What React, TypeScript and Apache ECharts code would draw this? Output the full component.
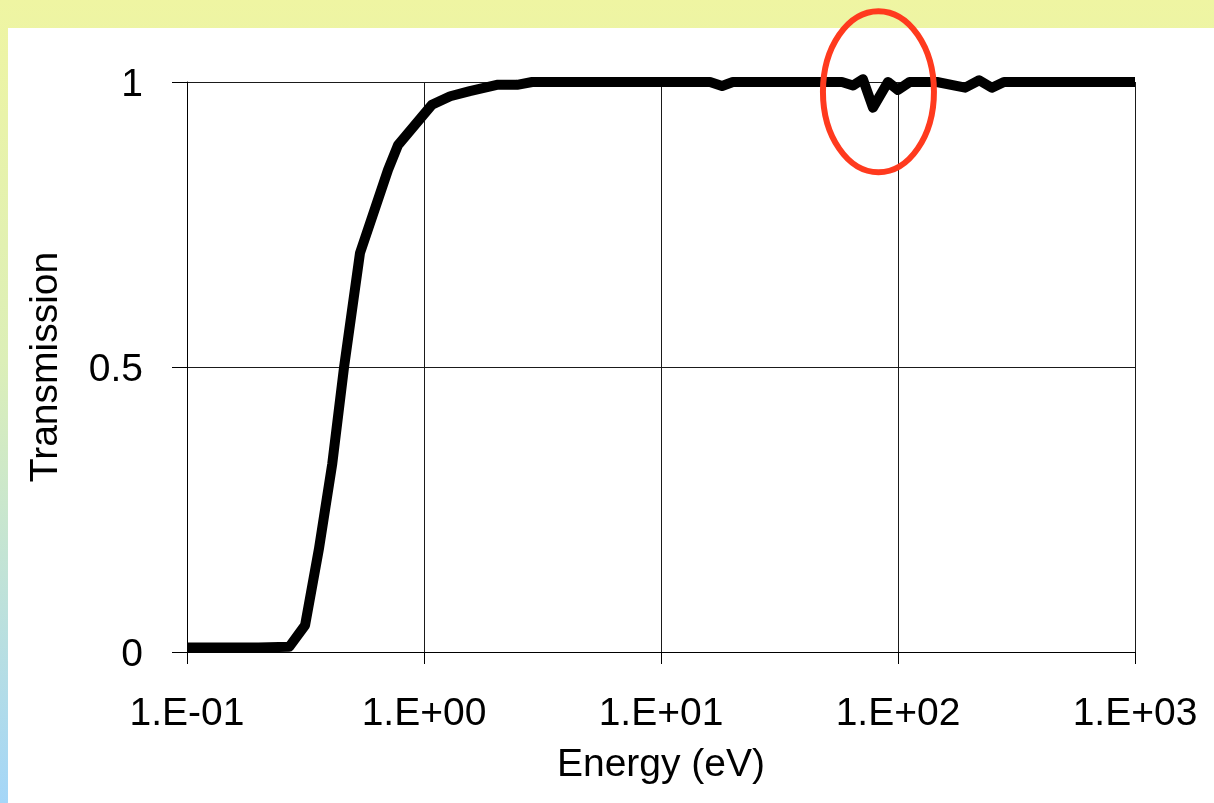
import React, { useEffect, useRef } from "react";
import * as echarts from "echarts";

// Photon energy (eV) and measured transmission of the filter
const energies = [
  0.1, 0.2, 0.27, 0.315, 0.36, 0.41, 0.46, 0.537, 0.705, 0.776, 1.08, 1.29,
  1.56, 2.03, 2.47, 2.86, 16.1, 18.1, 20.1, 58, 64.6, 71.1, 78.4, 90.7, 100,
  112, 146, 192, 220, 249, 280, 1000,
];
const transmission = [
  0.008, 0.008, 0.009, 0.047, 0.18, 0.33, 0.5, 0.7, 0.846, 0.889, 0.96, 0.975,
  0.984, 0.995, 0.995, 1.0, 1.0, 0.993, 1.0, 1.0, 0.994, 1.005, 0.955, 1.0,
  0.986, 1.0, 1.0, 0.99, 1.003, 0.99, 1.0, 1.0,
];

// Axis tick labels
const xTickLabels = ["1.E-01", "1.E+00", "1.E+01", "1.E+02", "1.E+03"];
const yTickLabels = ["0", "0.5", "1"];

// Centre of the highlighted absorption feature
const featureEnergy = 82.7;
const featureTransmission = 0.983;

const FONT = "'Liberation Sans', Arial, sans-serif";

export default function App() {
  const ref = useRef<HTMLDivElement>(null);

  useEffect(() => {
    const chart = echarts.init(ref.current!, null, { renderer: "svg" });
    const points = energies.map((e, i) => [e, transmission[i]]);

    chart.setOption({
      animation: false,
      graphic: [
        {
          id: "bg",
          type: "rect",
          z: -10,
          silent: true,
          shape: { x: 0, y: 0, width: 1214, height: 803 },
          style: {
            fill: new echarts.graphic.LinearGradient(0, 0, 0, 1, [
              { offset: 0, color: "#EFF5A2" },
              { offset: 0.45, color: "#DCEFB8" },
              { offset: 1, color: "#A4D6F8" },
            ]),
          },
        },
        {
          id: "panel",
          type: "rect",
          z: -9,
          silent: true,
          shape: { x: 8, y: 28, width: 1206, height: 775 },
          style: { fill: "#FFFFFF" },
        },
      ],
      grid: {
        left: 187,
        right: 79,
        top: 82,
        bottom: 151,
        containLabel: false,
        outerBoundsMode: "none",
      },
      xAxis: {
        type: "log",
        logBase: 10,
        min: 0.1,
        max: 1000,
        name: "Energy (eV)",
        nameLocation: "middle",
        nameGap: 91,
        nameTextStyle: { fontFamily: FONT, fontSize: 39, color: "#000" },
        axisLine: { show: true, lineStyle: { color: "#000", width: 1 } },
        axisTick: { show: true, length: 12, lineStyle: { color: "#000", width: 1 } },
        minorTick: { show: false },
        splitLine: { show: true, lineStyle: { color: "#1a1a1a", width: 1 } },
        axisLabel: {
          fontFamily: FONT,
          fontSize: 39,
          color: "#000",
          margin: 40,
          formatter: (v: number) => xTickLabels[Math.round(Math.log10(v)) + 1] ?? "",
        },
      },
      yAxis: {
        type: "value",
        min: 0,
        max: 1,
        interval: 0.5,
        name: "Transmission",
        nameLocation: "middle",
        nameRotate: 90,
        nameGap: 124,
        nameTextStyle: { fontFamily: FONT, fontSize: 39, color: "#000" },
        axisLine: { show: true, lineStyle: { color: "#000", width: 1 } },
        axisTick: { show: true, length: 15, lineStyle: { color: "#000", width: 1 } },
        splitLine: { show: true, lineStyle: { color: "#1a1a1a", width: 1 } },
        axisLabel: {
          fontFamily: FONT,
          fontSize: 39,
          color: "#000",
          margin: 44,
          formatter: (v: number) => yTickLabels[Math.round(v / 0.5)] ?? "",
        },
      },
      series: [
        {
          type: "line",
          data: points,
          showSymbol: false,
          symbol: "none",
          clip: false,
          lineStyle: { color: "#000", width: 10, join: "round", cap: "butt" },
        },
      ],
    });

    const [cx, cy] = chart.convertToPixel({ xAxisIndex: 0, yAxisIndex: 0 }, [
      featureEnergy,
      featureTransmission,
    ]) as number[];

    chart.setOption({
      graphic: [
        {
          id: "highlight",
          type: "ellipse",
          z: 100,
          silent: true,
          shape: { cx, cy, rx: 55.5, ry: 80.5 },
          style: { fill: null, stroke: "#FF3A1E", lineWidth: 6 },
        },
      ],
    });

    return () => chart.dispose();
  }, []);

  return (
    <div
      ref={ref}
      style={{ position: "fixed", left: 0, top: 0, width: 1214, height: 803 }}
    />
  );
}
